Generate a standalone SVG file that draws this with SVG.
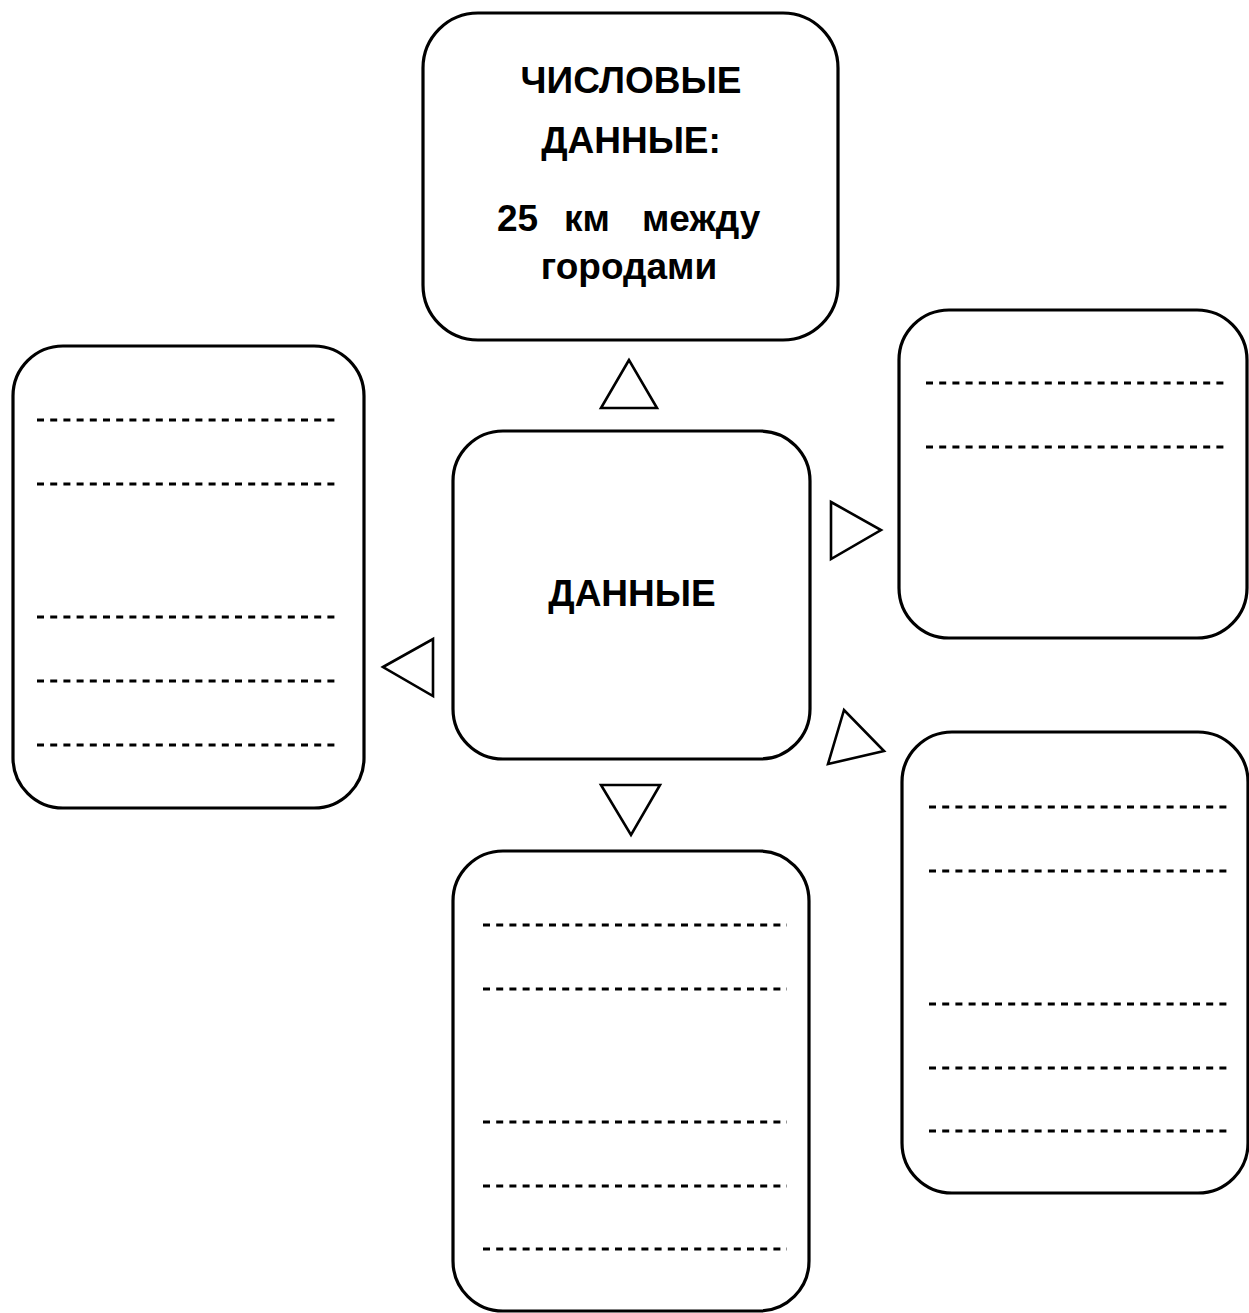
<svg xmlns="http://www.w3.org/2000/svg" width="1249" height="1313" viewBox="0 0 1249 1313">
<style>
.box{fill:#fff;stroke:#000;stroke-width:3.2}
.dash{stroke:#000;stroke-width:3;stroke-dasharray:7 6.2;fill:none}
.tri{fill:#fff;stroke:#000;stroke-width:2.6;stroke-linejoin:miter}
.t{font-family:"Liberation Sans",Arial,sans-serif;font-weight:bold;font-size:37px;fill:#000}
.c{text-anchor:middle}
</style>
<rect width="1249" height="1313" fill="#fff"/>
<g id="top-box">
<rect class="box" x="423" y="13" width="415" height="327" rx="55" ry="55"/>
<text class="t c" x="631" y="93">ЧИСЛОВЫЕ</text>
<text class="t c" x="631" y="153">ДАННЫЕ:</text>
<text class="t" y="231"><tspan x="497">25 </tspan><tspan x="564">км </tspan><tspan x="642">между</tspan></text>
<text class="t c" x="629" y="279">городами</text>
</g>
<g id="center-box">
<rect class="box" x="453" y="431" width="357" height="328" rx="50" ry="50"/>
<text class="t c" x="632" y="606">ДАННЫЕ</text>
</g>
<g id="left-box">
<rect class="box" x="13" y="346" width="351" height="462" rx="50" ry="50"/>
<line class="dash" x1="37" y1="420" x2="338" y2="420"/>
<line class="dash" x1="37" y1="484" x2="338" y2="484"/>
<line class="dash" x1="37" y1="617" x2="338" y2="617"/>
<line class="dash" x1="37" y1="681" x2="338" y2="681"/>
<line class="dash" x1="37" y1="745" x2="338" y2="745"/>
</g>
<g id="right-top-box">
<rect class="box" x="899" y="310" width="348" height="328" rx="50" ry="50"/>
<line class="dash" x1="926" y1="383" x2="1224" y2="383"/>
<line class="dash" x1="926" y1="447" x2="1224" y2="447"/>
</g>
<g id="right-bottom-box">
<rect class="box" x="902" y="732" width="346" height="461" rx="50" ry="50"/>
<line class="dash" x1="929" y1="807" x2="1230" y2="807"/>
<line class="dash" x1="929" y1="871" x2="1230" y2="871"/>
<line class="dash" x1="929" y1="1004" x2="1230" y2="1004"/>
<line class="dash" x1="929" y1="1068" x2="1230" y2="1068"/>
<line class="dash" x1="929" y1="1131" x2="1230" y2="1131"/>
</g>
<g id="bottom-box">
<rect class="box" x="453" y="851" width="356" height="460" rx="50" ry="50"/>
<line class="dash" x1="483" y1="925" x2="787" y2="925"/>
<line class="dash" x1="483" y1="989" x2="787" y2="989"/>
<line class="dash" x1="483" y1="1122" x2="787" y2="1122"/>
<line class="dash" x1="483" y1="1186" x2="787" y2="1186"/>
<line class="dash" x1="483" y1="1249" x2="787" y2="1249"/>
</g>
<g id="connectors">
<polygon class="tri" points="629,360 601,408 657,408"/>
<polygon class="tri" points="383,667 433,639 433,696"/>
<polygon class="tri" points="831,502 881,530 831,559"/>
<polygon class="tri" points="844,710 828,764 884,751"/>
<polygon class="tri" points="601,785 660,785 631,835"/>
</g>
</svg>
